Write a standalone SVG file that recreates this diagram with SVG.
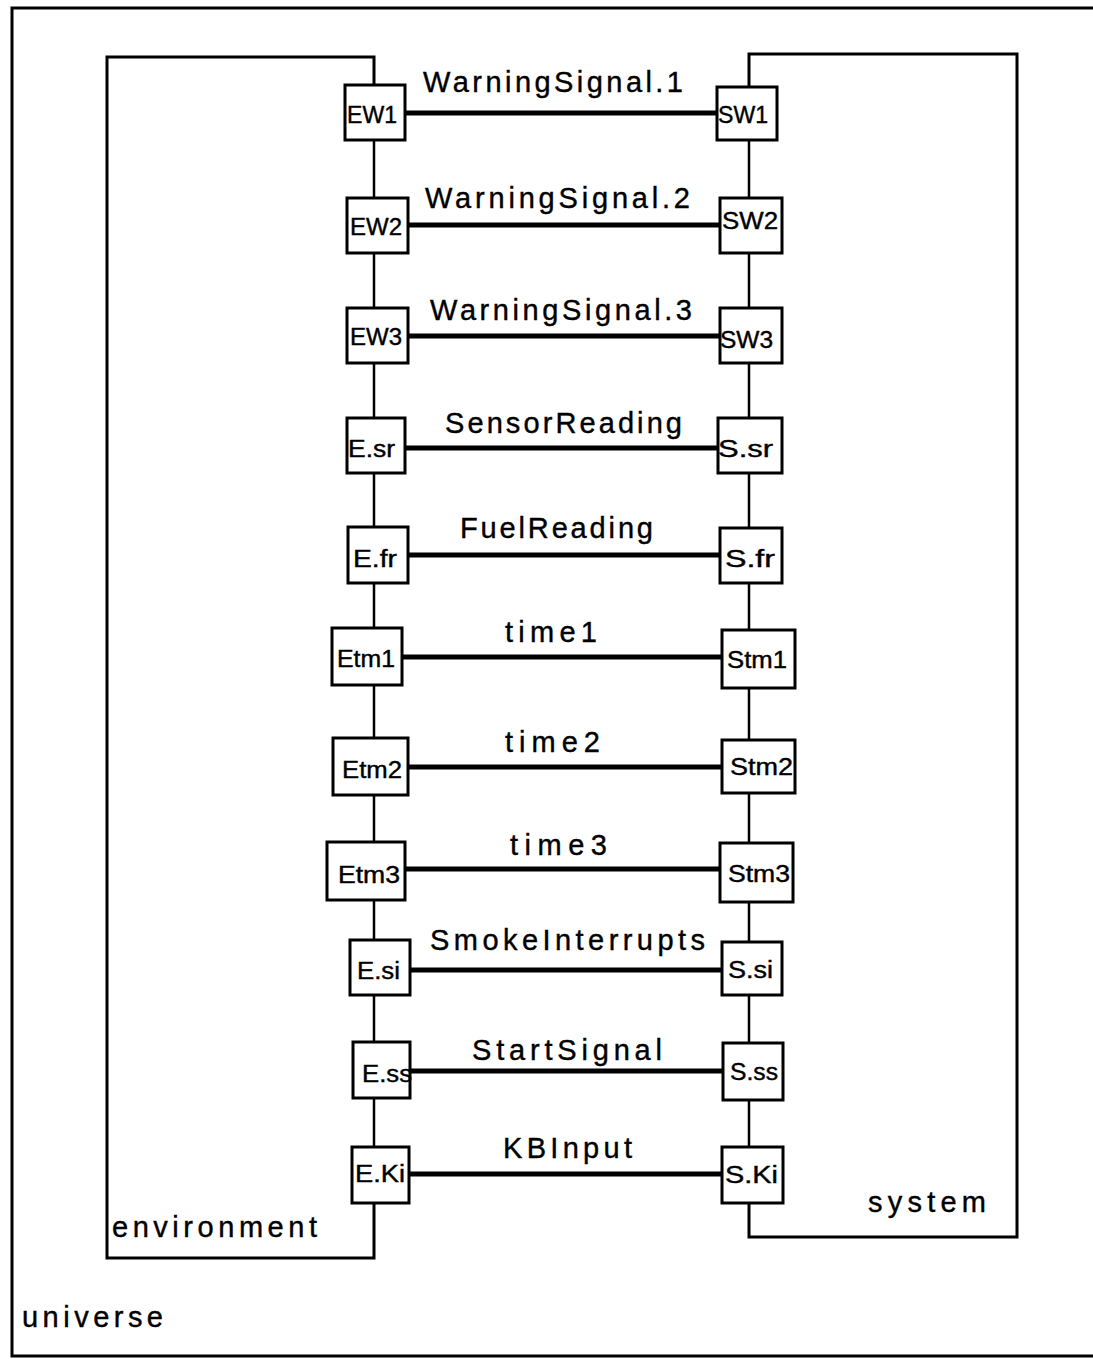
<svg xmlns="http://www.w3.org/2000/svg" width="1093" height="1359" viewBox="0 0 1093 1359">
<style>
.frame{fill:none;stroke:#000;stroke-width:3}
.node rect{fill:#fff;stroke:#000;stroke-width:3}
.node text{font-family:"Liberation Sans",Arial,sans-serif;font-size:23px;fill:#000;stroke:#000;stroke-width:0.4}
.lbl{font-family:"Liberation Sans",Arial,sans-serif;font-size:29px;fill:#000;stroke:#000;stroke-width:0.4}
.flow{stroke:#000;stroke-width:5;fill:none}
.link{stroke:#000;stroke-width:2.5;fill:none}
</style>
<rect x="0" y="0" width="1093" height="1359" fill="#fff"/>
<g id="universe">
<path class="frame" d="M1093 8 H12 V1356 H1093"/>
<text class="lbl" x="22" y="1327" textLength="141" lengthAdjust="spacing">universe</text>
</g>
<g id="environment">
<path class="frame" d="M374 85 V57 H107 V1258 H374 V1203"/>
<text class="lbl" x="112" y="1237" textLength="205" lengthAdjust="spacing">environment</text>
</g>
<g id="system">
<path class="frame" d="M749 87 V54 H1017 V1237 H749 V1203"/>
<text class="lbl" x="868" y="1212" textLength="118" lengthAdjust="spacing">system</text>
</g>
<g id="connectors">
<path class="link" d="M374 85 V1203"/>
<path class="link" d="M749 87 V1203"/>
<line class="flow" x1="405" y1="113" x2="717" y2="113"/>
<line class="flow" x1="408" y1="225" x2="720" y2="225"/>
<line class="flow" x1="408" y1="336" x2="720" y2="336"/>
<line class="flow" x1="405" y1="448" x2="718" y2="448"/>
<line class="flow" x1="408" y1="555" x2="720" y2="555"/>
<line class="flow" x1="402" y1="657" x2="722" y2="657"/>
<line class="flow" x1="408" y1="767" x2="722" y2="767"/>
<line class="flow" x1="405" y1="869" x2="720" y2="869"/>
<line class="flow" x1="410" y1="970" x2="722" y2="970"/>
<line class="flow" x1="410" y1="1071" x2="723" y2="1071"/>
<line class="flow" x1="409" y1="1174" x2="722" y2="1174"/>
<text class="lbl" x="423" y="92" textLength="260" lengthAdjust="spacing">WarningSignal.1</text>
<text class="lbl" x="425" y="208" textLength="265" lengthAdjust="spacing">WarningSignal.2</text>
<text class="lbl" x="430" y="320" textLength="262" lengthAdjust="spacing">WarningSignal.3</text>
<text class="lbl" x="445" y="433" textLength="237" lengthAdjust="spacing">SensorReading</text>
<text class="lbl" x="460" y="538" textLength="193" lengthAdjust="spacing">FuelReading</text>
<text class="lbl" x="505" y="642" textLength="92" lengthAdjust="spacing">time1</text>
<text class="lbl" x="505" y="752" textLength="95" lengthAdjust="spacing">time2</text>
<text class="lbl" x="510" y="855" textLength="97" lengthAdjust="spacing">time3</text>
<text class="lbl" x="430" y="950" textLength="275" lengthAdjust="spacing">SmokeInterrupts</text>
<text class="lbl" x="472" y="1060" textLength="190" lengthAdjust="spacing">StartSignal</text>
<text class="lbl" x="503" y="1158" textLength="129" lengthAdjust="spacing">KBInput</text>
</g>
<g id="EW1" class="node"><rect x="345" y="85" width="60" height="55"/><text x="347" y="123" textLength="50" lengthAdjust="spacingAndGlyphs">EW1</text></g>
<g id="SW1" class="node"><rect x="717" y="87" width="60" height="53"/><text x="718" y="123" textLength="50" lengthAdjust="spacingAndGlyphs">SW1</text></g>
<g id="EW2" class="node"><rect x="347" y="198" width="61" height="55"/><text x="350" y="235" textLength="52" lengthAdjust="spacingAndGlyphs">EW2</text></g>
<g id="SW2" class="node"><rect x="720" y="198" width="62" height="55"/><text x="722" y="229" textLength="56" lengthAdjust="spacingAndGlyphs">SW2</text></g>
<g id="EW3" class="node"><rect x="347" y="308" width="61" height="55"/><text x="350" y="345" textLength="52" lengthAdjust="spacingAndGlyphs">EW3</text></g>
<g id="SW3" class="node"><rect x="720" y="308" width="62" height="55"/><text x="720" y="348" textLength="53" lengthAdjust="spacingAndGlyphs">SW3</text></g>
<g id="E.sr" class="node"><rect x="347" y="418" width="58" height="55"/><text x="348" y="457" textLength="47" lengthAdjust="spacingAndGlyphs">E.sr</text></g>
<g id="S.sr" class="node"><rect x="718" y="418" width="64" height="55"/><text x="718" y="457" textLength="55" lengthAdjust="spacingAndGlyphs">S.sr</text></g>
<g id="E.fr" class="node"><rect x="348" y="527" width="60" height="56"/><text x="353" y="567" textLength="44" lengthAdjust="spacingAndGlyphs">E.fr</text></g>
<g id="S.fr" class="node"><rect x="720" y="528" width="62" height="55"/><text x="725" y="567" textLength="50" lengthAdjust="spacingAndGlyphs">S.fr</text></g>
<g id="Etm1" class="node"><rect x="332" y="628" width="70" height="57"/><text x="337" y="667" textLength="58" lengthAdjust="spacingAndGlyphs">Etm1</text></g>
<g id="Stm1" class="node"><rect x="722" y="630" width="73" height="58"/><text x="727" y="668" textLength="60" lengthAdjust="spacingAndGlyphs">Stm1</text></g>
<g id="Etm2" class="node"><rect x="333" y="738" width="75" height="57"/><text x="342" y="778" textLength="60" lengthAdjust="spacingAndGlyphs">Etm2</text></g>
<g id="Stm2" class="node"><rect x="722" y="740" width="73" height="53"/><text x="730" y="775" textLength="63" lengthAdjust="spacingAndGlyphs">Stm2</text></g>
<g id="Etm3" class="node"><rect x="327" y="842" width="78" height="58"/><text x="338" y="883" textLength="62" lengthAdjust="spacingAndGlyphs">Etm3</text></g>
<g id="Stm3" class="node"><rect x="720" y="843" width="73" height="59"/><text x="728" y="882" textLength="62" lengthAdjust="spacingAndGlyphs">Stm3</text></g>
<g id="E.si" class="node"><rect x="350" y="940" width="60" height="55"/><text x="357" y="979" textLength="43" lengthAdjust="spacingAndGlyphs">E.si</text></g>
<g id="S.si" class="node"><rect x="722" y="942" width="60" height="53"/><text x="728" y="978" textLength="45" lengthAdjust="spacingAndGlyphs">S.si</text></g>
<g id="E.ss" class="node"><rect x="353" y="1042" width="57" height="56"/><text x="362" y="1082" textLength="50" lengthAdjust="spacingAndGlyphs">E.ss</text></g>
<g id="S.ss" class="node"><rect x="723" y="1043" width="60" height="57"/><text x="730" y="1080" textLength="48" lengthAdjust="spacingAndGlyphs">S.ss</text></g>
<g id="E.Ki" class="node"><rect x="352" y="1147" width="57" height="56"/><text x="355" y="1182" textLength="50" lengthAdjust="spacingAndGlyphs">E.Ki</text></g>
<g id="S.Ki" class="node"><rect x="722" y="1147" width="61" height="56"/><text x="725" y="1183" textLength="53" lengthAdjust="spacingAndGlyphs">S.Ki</text></g>
</svg>
